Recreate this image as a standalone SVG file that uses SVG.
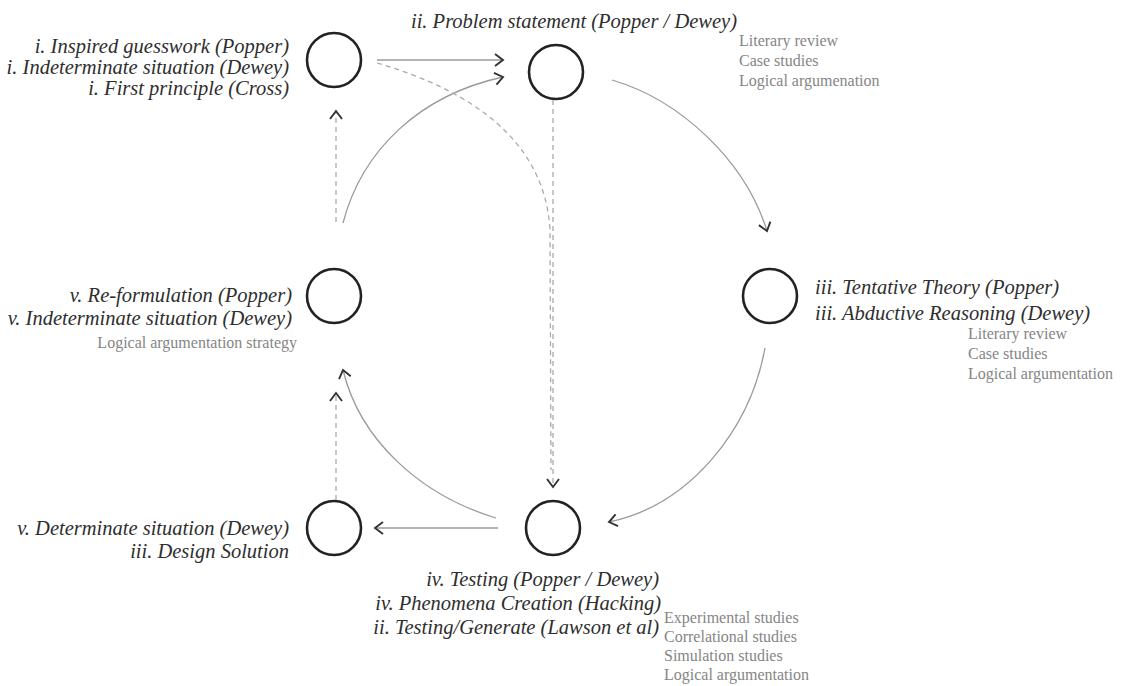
<svg xmlns="http://www.w3.org/2000/svg" width="1131" height="686" viewBox="0 0 1131 686">
<style>
.node{fill:#fff;stroke:#222;stroke-width:2.6}
.lbl{font-family:"Liberation Serif","Times New Roman",serif;font-style:italic;font-size:20.5px;fill:#2e2e2e}
.sub{font-family:"Liberation Serif","Times New Roman",serif;font-size:16px;fill:#858585}
.solid{fill:none;stroke:#9a9a9a;stroke-width:1.3}
.dash{fill:none;stroke:#aaa;stroke-width:1.3;stroke-dasharray:5 4}
</style>
<defs>
<marker id="chev" markerUnits="userSpaceOnUse" markerWidth="14" markerHeight="16" refX="9" refY="7" orient="auto" viewBox="0 0 14 14">
<path d="M1,1 L9,7 L1,13" fill="none" stroke="#333" stroke-width="1.9"/>
</marker>
</defs>
<rect width="1131" height="686" fill="#fff"/>
<g id="connectors">
<path class="solid" d="M377,60 L503,60" marker-end="url(#chev)"/>
<path class="solid" d="M343,223 C362,150 420,95 503,77" marker-end="url(#chev)"/>
<path class="dash" d="M377,63 C470,90 545,140 550,230 L551,470"/>
<path class="dash" d="M553,100 L553,487" marker-end="url(#chev)"/>
<path class="solid" d="M612,80 C680,100 745,160 767,231" marker-end="url(#chev)"/>
<path class="solid" d="M765,348 C750,430 690,505 609,522" marker-end="url(#chev)"/>
<path class="solid" d="M498,528 L375,528" marker-end="url(#chev)"/>
<path class="solid" d="M496,518 C420,495 360,440 343,370" marker-end="url(#chev)"/>
<path class="dash" d="M336,500 L336,393" marker-end="url(#chev)"/>
<path class="dash" d="M336,222 L336,111" marker-end="url(#chev)"/>
</g>
<g id="node-i">
<circle class="node" cx="334" cy="60" r="27"/>
<text class="lbl" x="289" y="53" text-anchor="end">i. Inspired guesswork (Popper)</text>
<text class="lbl" x="289" y="74" text-anchor="end">i. Indeterminate situation (Dewey)</text>
<text class="lbl" x="289" y="95" text-anchor="end">i. First principle (Cross)</text>
</g>
<g id="node-ii">
<circle class="node" cx="556" cy="72" r="27"/>
<text class="lbl" x="737" y="28" text-anchor="end">ii. Problem statement (Popper / Dewey)</text>
<text class="sub" x="739" y="46">Literary review</text>
<text class="sub" x="739" y="66">Case studies</text>
<text class="sub" x="739" y="86">Logical argumenation</text>
</g>
<g id="node-iii">
<circle class="node" cx="770" cy="296" r="27"/>
<text class="lbl" x="815" y="294">iii. Tentative Theory (Popper)</text>
<text class="lbl" x="815" y="320">iii. Abductive Reasoning (Dewey)</text>
<text class="sub" x="968" y="339">Literary review</text>
<text class="sub" x="968" y="359">Case studies</text>
<text class="sub" x="968" y="379">Logical argumentation</text>
</g>
<g id="node-v-reformulation">
<circle class="node" cx="334" cy="296" r="27"/>
<text class="lbl" x="292" y="302" text-anchor="end">v. Re-formulation (Popper)</text>
<text class="lbl" x="292" y="325" text-anchor="end">v. Indeterminate situation (Dewey)</text>
<text class="sub" x="297" y="348" text-anchor="end">Logical argumentation strategy</text>
</g>
<g id="node-v-determinate">
<circle class="node" cx="334" cy="528" r="27"/>
<text class="lbl" x="289" y="535" text-anchor="end">v. Determinate situation (Dewey)</text>
<text class="lbl" x="289" y="558" text-anchor="end">iii. Design Solution</text>
</g>
<g id="node-iv">
<circle class="node" cx="553" cy="528" r="27"/>
<text class="lbl" x="659" y="586" text-anchor="end">iv. Testing (Popper / Dewey)</text>
<text class="lbl" x="661" y="610" text-anchor="end">iv. Phenomena Creation (Hacking)</text>
<text class="lbl" x="659" y="634" text-anchor="end">ii. Testing/Generate (Lawson et al)</text>
<text class="sub" x="664" y="623">Experimental studies</text>
<text class="sub" x="664" y="642">Correlational studies</text>
<text class="sub" x="664" y="661">Simulation studies</text>
<text class="sub" x="664" y="680">Logical argumentation</text>
</g>
</svg>
